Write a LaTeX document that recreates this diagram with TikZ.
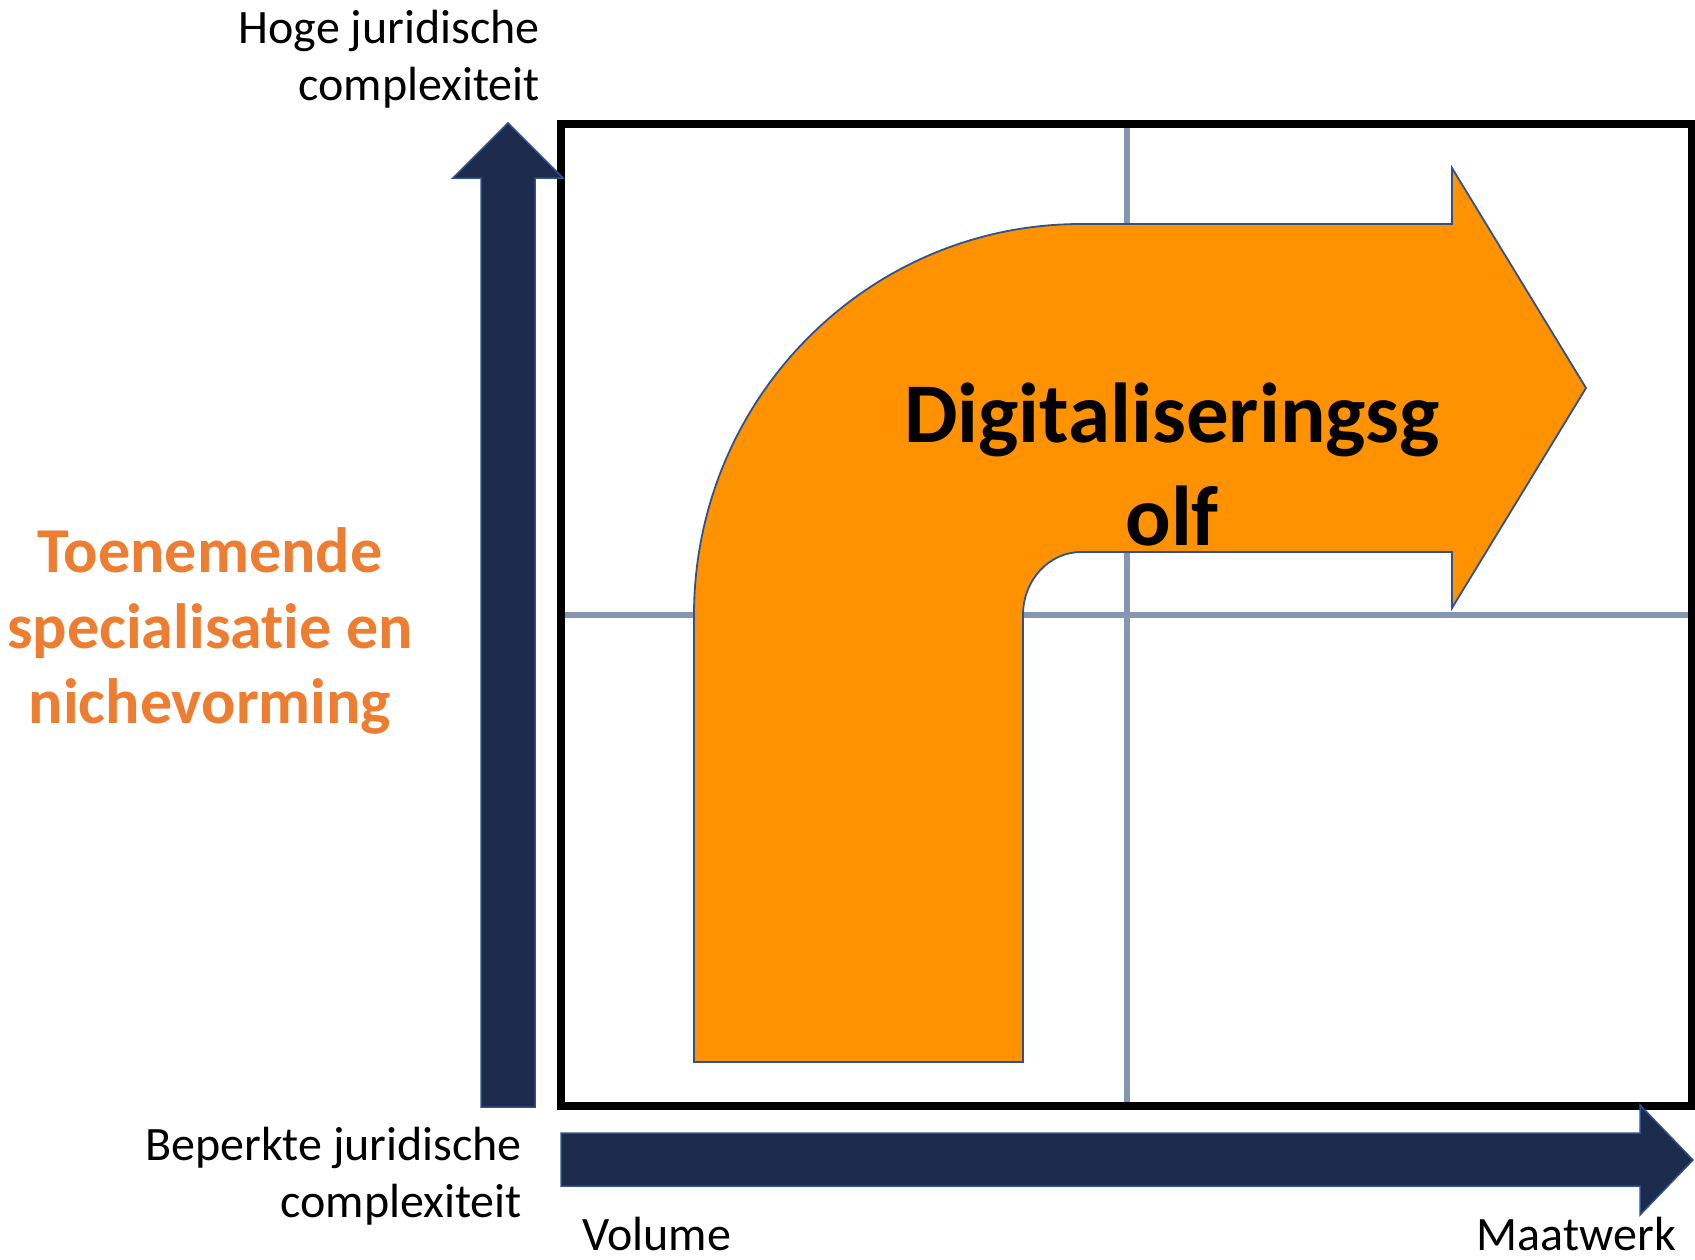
\documentclass[tikz,border=0pt]{standalone}
\usepackage{fontspec}
\setmainfont{Carlito}[RawFeature={-liga}]
\definecolor{navy}{HTML}{1C2B4B}
\definecolor{shapeline}{HTML}{2F528F}
\definecolor{gridgray}{HTML}{8497B0}
\definecolor{wave}{HTML}{FF9200}
\definecolor{labelorange}{HTML}{ED7D31}
\tikzset{
  axislabel/.style={inner sep=0pt, font=\fontsize{48}{56}\selectfont, text=black},
  nichelabel/.style={inner sep=0pt, font=\fontsize{64}{77}\selectfont\bfseries, text=labelorange},
  wavelabel/.style={inner sep=0pt, font=\fontsize{85}{102}\selectfont\bfseries, text=black},
  axisarrow/.style={fill=navy, draw=shapeline, line width=1.5pt, line join=miter},
  gridline/.style={draw=gridgray, line width=5.5pt},
  frame/.style={draw=black, line width=7.5pt, line join=miter}
}
\begin{document}
\begin{tikzpicture}[x=1pt, y=-1pt]
\useasboundingbox (0,0) rectangle (1695,1259);
% grid
\draw[gridline] (1127,124) -- (1127,1106);
\draw[gridline] (561,615) -- (1692,615);
% bent orange arrow
\filldraw[fill=wave, draw=shapeline, line width=1.8pt, line join=miter]
  (694,1062) -- (694,615)
  arc[start angle=180, end angle=270, x radius=387, y radius=391]
  -- (1452,224) -- (1452,168) -- (1586,388) -- (1452,608) -- (1452,552) -- (1081,552)
  arc[start angle=270, end angle=180, x radius=58, y radius=63]
  -- (1023,1062) -- cycle;
% frame
\draw[frame] (561,124) rectangle (1691.5,1106);
% axis arrows
\filldraw[axisarrow] (481,1107) -- (481,178) -- (453,178) -- (508,123) -- (563,178) -- (535,178) -- (535,1107) -- cycle;
\filldraw[axisarrow] (561,1133) -- (1640,1133) -- (1640,1105) -- (1693,1160) -- (1640,1215) -- (1640,1186) -- (561,1186) -- cycle;
% labels
\node[axislabel, anchor=base east] (hoge1) at (540,43) {Hoge juridische};
\node[axislabel, anchor=base east] (hoge2) at (540,100) {complexiteit};
\node[axislabel, anchor=base east] (bep1) at (522,1160) {Beperkte juridische};
\node[axislabel, anchor=base east] (bep2) at (522,1217) {complexiteit};
\node[axislabel, anchor=base west] (vol) at (582,1250) {Volume};
\node[axislabel, anchor=base east] (maat) at (1676,1250) {Maatwerk};
\node[nichelabel, anchor=base] (niche1) at (210,572) {Toenemende};
\node[nichelabel, anchor=base] (niche2) at (210,648) {specialisatie en};
\node[nichelabel, anchor=base] (niche3) at (210,723) {nichevorming};
\node[wavelabel, anchor=base] (wave1) at (1172,442) {Digitaliseringsg};
\node[wavelabel, anchor=base] (wave2) at (1172,545) {olf};
\end{tikzpicture}
\end{document}
